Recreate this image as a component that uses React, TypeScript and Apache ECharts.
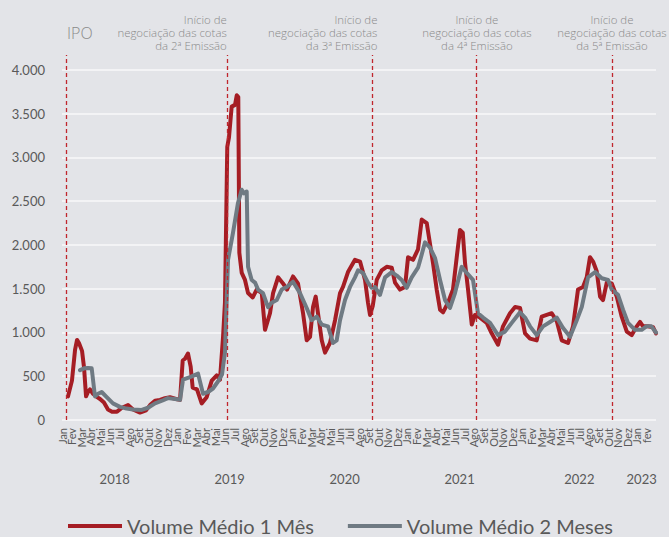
import React, { useEffect, useRef } from 'react';
import * as echarts from 'echarts';

// Month tick labels (Jan 2018 .. fev 2023)
const monthNames = ['Jan', 'Fev', 'Mar', 'Abr', 'Mai', 'Jun', 'Jul', 'Ago', 'Set', 'Out', 'Nov', 'Dez'];
const monthLabels = [
  ...monthNames, ...monthNames, ...monthNames, ...monthNames, ...monthNames,
  'Jan', 'fev', '',
];
const yearLabels = ['2018', '2019', '2020', '2021', '2022', '2023'];
const yearCenters = [5.5, 17.5, 29.5, 41.5, 54, 60.5];

// Position in months since Jan 2018, and volume values
const redMonths = [
  0.63, 1.04, 1.36, 1.57, 1.77, 2.09, 2.30, 2.51, 2.71, 2.92, 3.24, 3.55, 3.97, 4.38, 4.80, 5.22, 5.74, 6.26, 6.89, 7.41,
  8.14, 8.77, 9.19, 9.71, 10.23, 10.75, 11.27, 11.90, 12.32, 12.60, 12.84, 13.15, 13.43, 13.64, 14.09, 14.58, 15.10, 15.63, 16.15, 16.49,
  16.81, 17.01, 17.25, 17.43, 17.71, 18.06, 18.24, 18.40, 18.51, 18.76, 19.10, 19.42, 19.91, 20.32, 20.85, 21.19, 21.71, 22.03, 22.55, 23.07,
  23.49, 24.11, 24.63, 25.16, 25.54, 25.89, 26.20, 26.48, 26.72, 27.11, 27.45, 27.97, 28.50, 29.02, 29.33, 29.85, 30.58, 31.11, 31.63, 31.94,
  32.15, 32.43, 32.85, 33.37, 33.89, 34.42, 34.76, 35.28, 35.80, 36.12, 36.64, 37.16, 37.55, 38.07, 38.73, 39.11, 39.46, 39.77, 40.29, 40.81,
  41.20, 41.54, 41.83, 42.07, 42.38, 42.77, 43.11, 43.63, 44.33, 44.85, 45.51, 46.03, 46.76, 47.29, 47.81, 48.33, 48.85, 49.55, 50.07, 50.59,
  51.12, 51.64, 52.16, 52.82, 53.34, 53.86, 54.38, 54.77, 55.11, 55.43, 55.81, 56.16, 56.47, 56.86, 57.38, 57.90, 58.42, 58.95, 59.47, 59.99,
  60.33, 60.65, 61.17, 61.69, 62.0,
];
const redValues = [
  270, 450, 800, 915, 880, 790, 600, 270, 320, 350, 300, 270, 240, 200, 120, 95, 95, 140, 170, 120,
  85, 110, 170, 220, 230, 250, 260, 240, 230, 680, 700, 760, 610, 370, 350, 190, 260, 450, 510, 460,
  950, 1340, 3120, 3230, 3580, 3600, 3710, 3690, 1910, 1680, 1600, 1450, 1400, 1490, 1450, 1030, 1220, 1450, 1630, 1560,
  1490, 1640, 1560, 1220, 910, 950, 1290, 1410, 1220, 910, 770, 880, 1140, 1450, 1520, 1690, 1830, 1810, 1600, 1340,
  1200, 1300, 1600, 1710, 1750, 1740, 1570, 1490, 1520, 1860, 1830, 1950, 2290, 2250, 1790, 1490, 1260, 1230, 1340, 1490,
  1860, 2170, 2140, 1790, 1490, 1090, 1200, 1170, 1110, 990, 860, 1070, 1220, 1290, 1280, 990, 930, 910, 1180, 1200,
  1220, 1130, 910, 880, 1070, 1490, 1520, 1630, 1860, 1810, 1700, 1410, 1370, 1570, 1560, 1410, 1180, 1010, 970, 1070,
  1120, 1070, 1070, 1060, 990,
];

const grayMonths = [
  1.88, 2.30, 2.71, 3.10, 3.44, 3.76, 4.14, 4.59, 5.32, 6.05, 6.58, 7.41, 8.32, 8.98, 9.71, 10.44, 11.06, 11.80, 12.32, 12.63,
  13.36, 14.20, 14.72, 15.24, 15.76, 16.28, 16.70, 17.01, 17.33, 17.85, 18.37, 18.76, 19.00, 19.28, 19.42, 19.80, 20.15, 20.46, 20.98, 21.50,
  21.89, 22.41, 22.93, 23.46, 24.11, 24.84, 25.54, 26.06, 26.59, 27.11, 27.77, 28.29, 28.67, 29.02, 29.54, 30.06, 30.58, 30.90, 31.42, 31.94,
  32.33, 32.67, 33.19, 33.72, 34.42, 34.94, 35.46, 35.98, 36.50, 37.16, 37.47, 37.89, 38.41, 38.94, 39.46, 39.98, 40.50, 41.02, 41.72, 42.24,
  42.90, 43.42, 43.95, 44.68, 45.51, 46.24, 46.94, 47.81, 48.33, 48.85, 49.55, 50.21, 50.94, 51.64, 52.30, 53.03, 53.73, 54.25, 54.91, 55.64,
  56.34, 57.00, 57.38, 58.04, 58.56, 59.08, 59.81, 60.50, 61.00, 61.52, 62.0,
];
const grayValues = [
  570, 590, 595, 590, 270, 300, 320, 270, 190, 150, 135, 120, 115, 140, 190, 220, 250, 240, 230, 460,
  490, 530, 300, 320, 360, 440, 520, 770, 1830, 2140, 2480, 2630, 2590, 2610, 1750, 1600, 1570, 1490, 1450, 1290,
  1340, 1370, 1490, 1520, 1580, 1450, 1280, 1140, 1180, 1090, 1070, 880, 910, 1140, 1370, 1520, 1630, 1710, 1680, 1570,
  1510, 1520, 1430, 1630, 1690, 1650, 1600, 1510, 1630, 1740, 1860, 2030, 1970, 1850, 1600, 1370, 1280, 1450, 1750, 1680,
  1600, 1220, 1170, 1110, 970, 1010, 1110, 1230, 1170, 1070, 970, 1070, 1120, 1170, 1050, 950, 1140, 1290, 1630, 1690,
  1620, 1600, 1490, 1430, 1260, 1110, 1030, 1030, 1070, 1070, 1000,
];

// Event markers (months since Jan 2018)
const eventMonths = [0.42, 17.2, 32.4, 43.2, 57.4];
const eventTexts = [
  'IPO',
  'Início de\nnegociação das cotas\nda 2ª Emissão',
  'Início de\nnegociação das cotas\nda 3ª Emissão',
  'Início de\nnegociação das cotas\nda 4ª Emissão',
  'Início de\nnegociação das cotas\nda 5ª Emissão',
];
const eventAlign = ['left', 'right', 'right', 'center', 'center'];
const eventDx = [1, 0, 5, 1, 0];

const seriesNames = ['Volume Médio 1 Mês', 'Volume Médio 2 Meses'];

const RED = '#a51d24';
const GRAY = '#6f7a83';
const TEXT = '#595959';
const BG = '#e3e4e8';

function fmtThousands(v: number): string {
  if (v >= 1000) {
    const t = Math.floor(v / 1000);
    const r = String(Math.round(v % 1000)).padStart(3, '0');
    return `${t}.${r}`;
  }
  return String(v);
}

export default function App() {
  const ref = useRef<HTMLDivElement>(null);
  useEffect(() => {
    if (!ref.current) return;
    const chart = echarts.init(ref.current, null, { renderer: 'svg' });
    const redData = redMonths.map((m, i) => [m, redValues[i]]);
    const grayData = grayMonths.map((m, i) => [m, grayValues[i]]);
    const hiddenAxisParts = {
      axisLine: { show: false },
      axisTick: { show: false },
      splitLine: { show: false },
    };
    const option: any = {
      animation: false,
      backgroundColor: BG,
      textStyle: { fontFamily: 'Lato, "Noto Sans", sans-serif' },
      grid: { left: 62, right: 13, top: 55, bottom: 117, containLabel: false },
      legend: {
        data: seriesNames,
        left: 63,
        top: 511,
        icon: 'rect',
        itemWidth: 54,
        itemHeight: 4,
        itemGap: 34,
        textStyle: { fontSize: 20, color: TEXT },
      },
      xAxis: [
        {
          // data axis (months since Jan 2018)
          type: 'value',
          min: 0,
          max: 62,
          interval: 1,
          ...hiddenAxisParts,
          axisLabel: { show: false },
        },
        {
          // year labels
          type: 'value',
          position: 'bottom',
          min: 0,
          max: 62,
          interval: 0.5,
          ...hiddenAxisParts,
          axisLabel: {
            margin: 52,
            fontSize: 13,
            color: TEXT,
            showMinLabel: true,
            showMaxLabel: true,
            formatter: (v: number) => {
              const i = yearCenters.findIndex((c) => Math.abs(c - v) < 1e-6);
              return i >= 0 ? yearLabels[i] : '';
            },
          },
        },
        {
          // month labels
          type: 'category',
          position: 'bottom',
          data: monthLabels,
          boundaryGap: false,
          ...hiddenAxisParts,
          axisLabel: {
            interval: 0,
            rotate: 90,
            margin: 8,
            fontSize: 11,
            color: TEXT,
          },
        },
      ],
      yAxis: {
        type: 'value',
        min: 0,
        max: 4170,
        interval: 500,
        axisLine: { show: false },
        axisTick: { show: false },
        axisLabel: {
          margin: 17,
          fontSize: 13,
          color: TEXT,
          formatter: (v: number) => (v > 4000 ? '' : fmtThousands(v)),
        },
        splitLine: { showMaxLine: false, lineStyle: { color: '#f3f3f5', width: 2 } },
      },
      series: [
        {
          name: seriesNames[0],
          type: 'line',
          xAxisIndex: 0,
          data: redData,
          showSymbol: false,
          symbol: 'none',
          lineStyle: { color: RED, width: 4, join: 'round', cap: 'round' },
          itemStyle: { color: RED },
          markLine: {
            silent: true,
            symbol: ['none', 'none'],
            label: { show: false },
            lineStyle: { color: '#c0262d', type: [4, 3], width: 1.3 },
            data: eventMonths.map((m) => ({ xAxis: m })),
          },
        },
        {
          name: seriesNames[1],
          type: 'line',
          xAxisIndex: 0,
          data: grayData,
          showSymbol: false,
          symbol: 'none',
          lineStyle: { color: GRAY, width: 4, join: 'round', cap: 'round' },
          itemStyle: { color: GRAY },
        },
      ],
    };
    chart.setOption(option);

    const graphics = eventMonths.map((m, i) => {
      const px = chart.convertToPixel({ xAxisIndex: 0 }, m) as number;
      if (i === 0) {
        return {
          type: 'text',
          x: px + eventDx[i],
          y: 33,
          style: {
            text: eventTexts[i],
            fontSize: 16,
            fontWeight: 300,
            fontFamily: '"Open Sans", sans-serif',
            fill: '#8a8a8a',
            align: 'left',
            verticalAlign: 'middle',
          },
        };
      }
      return {
        type: 'text',
        x: px + eventDx[i],
        y: 12.5,
        scaleX: 1.06,
        style: {
          text: eventTexts[i],
          fontSize: 10.8,
          lineHeight: 13.4,
          fontWeight: 300,
          fontFamily: '"Open Sans", sans-serif',
          fill: '#8a8a8a',
          align: eventAlign[i],
          verticalAlign: 'top',
        },
      };
    });
    chart.setOption({ graphic: graphics });

    return () => chart.dispose();
  }, []);

  return (
    <div
      ref={ref}
      style={{ position: 'fixed', left: 0, top: 0, width: 669, height: 537 }}
    />
  );
}
